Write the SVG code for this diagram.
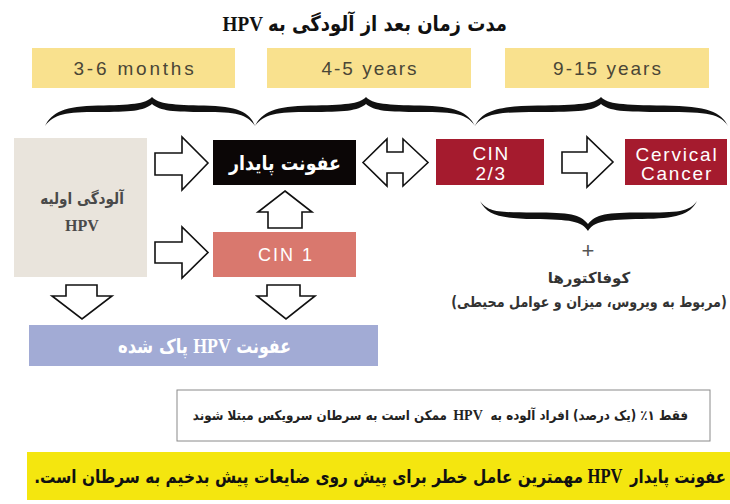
<svg xmlns="http://www.w3.org/2000/svg" width="730" height="504" viewBox="0 0 730 504">
<style>
.fa{font-family:"DejaVu Sans",sans-serif;font-weight:bold}
.hpv{font-family:"Liberation Serif",serif;font-weight:bold}
.en{font-family:"Liberation Sans",Arial,sans-serif}
.yl{fill:#f9e18e}
.yt{font-size:19px;fill:#4a4636;text-anchor:middle}
.arr{fill:#fff;stroke:#111;stroke-width:1.6;stroke-linejoin:miter}
.brace{fill:#111}
.wt{fill:#fff}
</style>
<rect width="730" height="504" fill="#fff"/>

<g id="title" fill="#111">
<text class="fa" transform="translate(507,31) scale(0.86,1)" font-size="21" direction="rtl" text-anchor="start">مدت زمان بعد از آلودگی به</text>
<text class="hpv" transform="translate(263,31) scale(0.87,1)" font-size="22" text-anchor="end">HPV</text>
</g>

<g id="period-1">
<rect class="yl" x="32" y="48" width="203" height="40"/>
<text class="en yt" x="135" y="75" letter-spacing="2.8">3-6 months</text>
</g>
<g id="period-2">
<rect class="yl" x="267" y="48" width="204" height="40"/>
<text class="en yt" x="370" y="75" letter-spacing="2">4-5 years</text>
</g>
<g id="period-3">
<rect class="yl" x="505" y="48" width="204" height="40"/>
<text class="en yt" x="608" y="75" letter-spacing="2">9-15 years</text>
</g>

<g id="braces">
<path class="brace" d="M45,126 C52,112 65,106 98,105.5 C130,105 146,104 152,97 C158,104 174,105 204,105.5 C237,106 250,112 255,126 C247,114 236,112 204,112 C174,112 160,111 152,104 C144,111 130,112 98,112 C66,112 54,114 45,126 Z"/>
<path class="brace" d="M255,126 C262,112 275,106 310,105.5 C344,105 360,104 366,97 C372,104 388,105 420,105.5 C455,106 468,112 475,126 C467,114 456,112 420,112 C388,112 374,111 366,104 C358,111 344,112 310,112 C276,112 264,114 255,126 Z"/>
<path class="brace" d="M475,126 C482,112 495,106 538,105.5 C579,105 595,104 601,97 C607,104 623,105 664,105.5 C708,106 721,112 728,126 C720,114 709,112 664,112 C623,112 609,111 601,104 C593,111 579,112 538,112 C497,112 484,114 475,126 Z"/>
<path class="brace" d="M480,201 C487,215 500,218.5 534,219 C570,219.5 582,221 588,231 C594,221 606,219.5 642,219 C676,218.5 690,215 697,201 C689,212 678,212.5 642,212.5 C606,212.5 596,214 588,224 C580,214 570,212.5 534,212.5 C498,212.5 488,212 480,201 Z"/>
</g>

<g id="initial-infection">
<rect x="14" y="138" width="133" height="139" fill="#e9e4dc"/>
<text class="fa" transform="translate(82,204) scale(0.85,1)" font-size="16" text-anchor="middle" direction="rtl" fill="#4a4a4a">آلودگی اولیه</text>
<text class="hpv" x="82" y="231" font-size="16" text-anchor="middle" fill="#4a4a4a">HPV</text>
</g>

<g id="persistent">
<rect x="213" y="140" width="143" height="45" fill="#0b0606"/>
<text class="fa wt" transform="translate(285,170) scale(0.87,1)" font-size="20" text-anchor="middle" direction="rtl">عفونت پایدار</text>
</g>

<g id="cin1">
<rect x="213" y="232" width="143" height="45" fill="#d9786e"/>
<text class="en wt" x="286" y="261" font-size="18" letter-spacing="2" text-anchor="middle">CIN 1</text>
</g>

<g id="cin23">
<rect x="436" y="139" width="108" height="46" fill="#a51b2e"/>
<text class="en wt" x="491" y="160" font-size="19" letter-spacing="1.5" text-anchor="middle">CIN</text>
<text class="en wt" x="491" y="180" font-size="19" letter-spacing="1.5" text-anchor="middle">2/3</text>
</g>

<g id="cancer">
<rect x="625" y="139" width="102" height="46" fill="#a51b2e"/>
<text class="en wt" x="677" y="161" font-size="19" letter-spacing="1.8" text-anchor="middle">Cervical</text>
<text class="en wt" x="677" y="180" font-size="19" letter-spacing="1.8" text-anchor="middle">Cancer</text>
</g>

<g id="cleared">
<rect x="29" y="325" width="349" height="41" fill="#a2abd5"/>
<text class="fa wt" transform="translate(291,353) scale(0.79,1)" font-size="20" direction="rtl" text-anchor="start">عفونت</text>
<text class="hpv wt" transform="translate(212,353) scale(0.85,1)" font-size="21" text-anchor="middle">HPV</text>
<text class="fa wt" transform="translate(188,353) scale(0.82,1)" font-size="20" direction="rtl" text-anchor="start">پاک شده</text>
</g>

<g id="cofactors">
<text class="en" x="588" y="258" font-size="22" text-anchor="middle" fill="#555">+</text>
<text class="fa" x="589" y="283" font-size="15" text-anchor="middle" direction="rtl" fill="#333">کوفاکتورها</text>
<text class="fa" transform="translate(589,307) scale(0.85,1)" font-size="15" text-anchor="middle" direction="rtl" fill="#333">(مربوط به ویروس، میزان و عوامل محیطی)</text>
</g>

<g id="note" fill="#222">
<rect x="177" y="390" width="533" height="51" fill="#fff" stroke="#8a8a8a" stroke-width="1"/>
<text class="fa" transform="translate(688,420) scale(0.882,1)" font-size="13.5" direction="rtl" text-anchor="start">فقط ۱٪ (یک درصد) افراد آلوده به</text>
<text class="hpv" x="468" y="420" font-size="14" text-anchor="middle">HPV</text>
<text class="fa" transform="translate(447,420) scale(0.882,1)" font-size="13.5" direction="rtl" text-anchor="start">ممکن است به سرطان سرویکس مبتلا شوند</text>
</g>

<g id="conclusion" fill="#111">
<rect x="27" y="452" width="703" height="48" fill="#f4e60f"/>
<text class="fa" transform="translate(726,483) scale(0.83,1)" font-size="18" direction="rtl" text-anchor="start">عفونت پایدار</text>
<text class="hpv" transform="translate(605,483) scale(0.83,1)" font-size="20" text-anchor="middle">HPV</text>
<text class="fa" transform="translate(583,483) scale(0.852,1)" font-size="18" direction="rtl" text-anchor="start">مهمترین عامل خطر برای پیش روی ضایعات پیش بدخیم به سرطان است.</text>
</g>

<g id="connectors">
<polygon class="arr" points="155,153 182,153 182,137 208,163 182,190 182,175 155,175"/>
<polygon class="arr" points="155,242 182,242 182,227 208,252.5 182,278 182,263 155,263"/>
<polygon class="arr" points="363,162.5 387,139 387,152 403,152 403,139 428,162.5 403,186 403,173 387,173 387,186"/>
<polygon class="arr" points="562,152 587,152 587,137 613,162 587,187 587,173 562,173"/>
<polygon class="arr" points="285,191 312,212 302,212 302,228 268,228 268,212 258,212"/>
<polygon class="arr" points="66,285 97,285 97,296 112,296 82,319 52,296 66,296"/>
<polygon class="arr" points="267,285 300,285 300,296 315,296 286,319 257,296 267,296"/>
</g>
</svg>
